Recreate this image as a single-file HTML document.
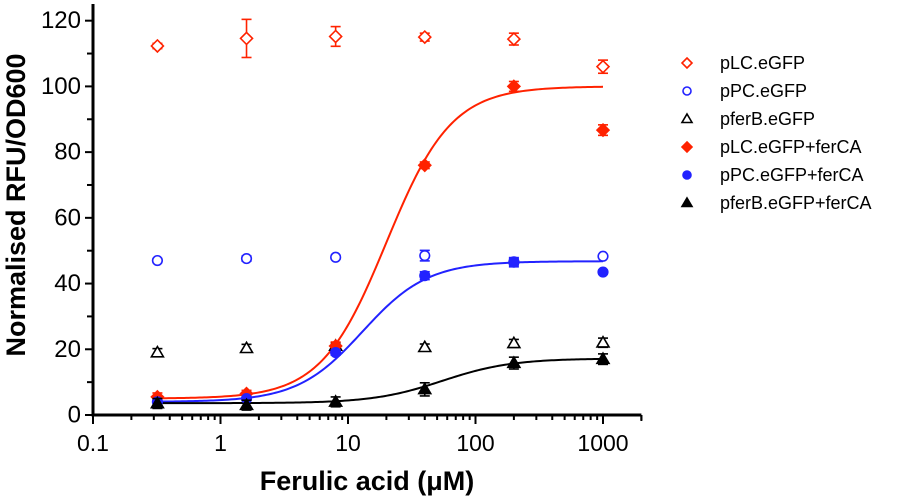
<!DOCTYPE html>
<html><head><meta charset="utf-8"><style>
html,body{margin:0;padding:0;background:#fff;}
svg{display:block;font-family:"Liberation Sans",Arial,sans-serif;}
</style></head><body>
<svg id="chart" width="916" height="500" viewBox="0 0 916 500">
<g id="axes"></g>
<g id="curves"></g>
<g id="points"></g>
<g id="legend"></g>
<text x="16" y="205" transform="rotate(-90 16 205)" text-anchor="middle" dominant-baseline="central" font-size="27" font-weight="bold">Normalised RFU/OD600</text>
<text x="367" y="481" text-anchor="middle" dominant-baseline="central" font-size="27" font-weight="bold">Ferulic acid (μM)</text>
</svg>
<script>
const concentrations = [0.32, 1.6, 8, 40, 200, 1000];
const pLC = [112.3, 114.6, 115.2, 115, 114.4, 106];
const pLCErr = [0.8, 5.8, 3, 1.2, 1.8, 2];
const pPC = [47, 47.6, 48, 48.5, 46.6, 48.3];
const pPCErr = [0.6, 0.8, 0.6, 1.6, 1, 0.4];
const pferB = [19, 20.3, 21, 20.6, 21.8, 22];
const pferBErr = [1.2, 1.2, 1, 1, 1.2, 1.4];
const pLCfer = [5.5, 6.5, 21, 76, 100, 86.7];
const pLCferErr = [1.2, 1, 1.2, 1, 1.5, 1.6];
const pPCfer = [4, 5, 19, 42.4, 46.5, 43.5];
const pPCferErr = [0.6, 0.6, 0.8, 1.2, 1.4, 0.6];
const pferBfer = [3.5, 3, 4, 7.8, 15.8, 17];
const pferBferErr = [1.5, 1.5, 1.5, 2, 1.8, 1.6];
// Hill fit params: bottom, top, EC50, hill slope
const fitLC = [5, 100, 20, 1.7];
const fitPC = [4, 46.8, 13, 1.7];
const fitFerB = [3.6, 17.2, 55, 1.6];
const yTicks = [0, 20, 40, 60, 80, 100, 120];
const xTicks = [0.1, 1, 10, 100, 1000];
const xTickLabels = ["0.1", "1", "10", "100", "1000"];
const legendLabels = ["pLC.eGFP", "pPC.eGFP", "pferB.eGFP", "pLC.eGFP+ferCA", "pPC.eGFP+ferCA", "pferB.eGFP+ferCA"];

const NS = "http://www.w3.org/2000/svg";
const X0 = 93, DEC = 127.5, Y0 = 415, PPU = 3.286;
const xs = v => X0 + (Math.log10(v) + 1) * DEC;
const ys = v => Y0 - v * PPU;
function mk(tag, attrs, parent) { const e = document.createElementNS(NS, tag); for (const k in attrs) e.setAttribute(k, attrs[k]); parent.appendChild(e); return e; }

const axes = document.getElementById('axes');
let l = mk('line', {x1: X0, y1: 4, x2: X0, y2: Y0 + 1.5, stroke: '#000', 'stroke-width': 3}, axes);


l = mk('line', {x1: X0 - 1.5, y1: Y0, x2: xs(2000), y2: Y0, stroke: '#000', 'stroke-width': 3}, axes);


for (let v = 0; v <= 120; v += 10) {
  const major = v % 20 === 0;
  const t = mk('line', {x1: X0 - (major ? 8 : 6), y1: ys(v), x2: X0, y2: ys(v), stroke: '#000', 'stroke-width': 2}, axes);
  
  
}
yTicks.forEach(v => {
  const t = mk('text', {x: 81, y: ys(v), 'text-anchor': 'end', 'dominant-baseline': 'central', 'font-size': 24}, axes);
  t.textContent = v;
  
  
});
for (let d = 0.1; d < 2000; d *= 10) {
  for (let m = 1; m <= 9; m++) {
    const v = d * m; if (v > 2000.01) break;
    const major = m === 1;
    const t = mk('line', {x1: xs(v), y1: Y0, x2: xs(v), y2: Y0 + (major ? 9 : 5), stroke: '#000', 'stroke-width': 2}, axes);
    
    
  }
}
mk('line', {x1: xs(2000), y1: Y0, x2: xs(2000), y2: Y0 + 6, stroke: '#000', 'stroke-width': 2}, axes);
xTicks.forEach((v, i) => {
  const t = mk('text', {x: xs(v), y: 443, 'text-anchor': 'middle', 'dominant-baseline': 'central', 'font-size': 23}, axes);
  t.textContent = xTickLabels[i];
  
  
});

const curves = document.getElementById('curves');
function hill(p, x) { return p[0] + (p[1] - p[0]) / (1 + Math.pow(p[2] / x, p[3])); }
[[fitLC, '#ff2200', 'fit-curve-plc'], [fitPC, '#2222ff', 'fit-curve-ppc'], [fitFerB, '#000', 'fit-curve-pferb']].forEach(([p, c, n]) => {
  let d = '';
  for (let i = 0; i <= 200; i++) {
    const lx = Math.log10(0.32) + (Math.log10(1000) - Math.log10(0.32)) * i / 200;
    const x = Math.pow(10, lx);
    d += (i ? 'L' : 'M') + xs(x).toFixed(2) + ',' + ys(hill(p, x)).toFixed(2);
  }
  const pth = mk('path', {d: d, fill: 'none', stroke: c, 'stroke-width': 2}, curves);
  
  
});

function marker(g, shape, filled, color, cx, cy, s) {
  const f = filled ? color : '#fff';
  const a = {fill: f, stroke: color, 'stroke-width': 1.6};
  if (shape === 'diamond') mk('polygon', Object.assign({points: `${cx},${cy - s} ${cx + s},${cy} ${cx},${cy + s} ${cx - s},${cy}`}, a), g);
  else if (shape === 'circle') mk('circle', Object.assign({cx: cx, cy: cy, r: s * 0.8}, a), g);
  else mk('polygon', Object.assign({points: `${cx},${cy - s} ${cx + s},${cy + s * 0.7} ${cx - s},${cy + s * 0.7}`}, a), g);
}
const series = [
  [pLC, pLCErr, 'diamond', false, '#ff2200', 'plc-egfp'],
  [pPC, pPCErr, 'circle', false, '#2222ff', 'ppc-egfp'],
  [pferB, pferBErr, 'triangle', false, '#000', 'pferb-egfp'],
  [pLCfer, pLCferErr, 'diamond', true, '#ff2200', 'plc-egfp-ferca'],
  [pPCfer, pPCferErr, 'circle', true, '#2222ff', 'ppc-egfp-ferca'],
  [pferBfer, pferBferErr, 'triangle', true, '#000', 'pferb-egfp-ferca']
];
const pts = document.getElementById('points');
series.forEach(([vals, errs, shape, filled, color, name]) => {
  const g = mk('g', {}, pts);
  
  
  vals.forEach((v, i) => {
    const cx = xs(concentrations[i]), cy = ys(v);
    const top = ys(v + errs[i]), bot = ys(v - errs[i]);
    const eb = mk('g', {stroke: color, 'stroke-width': 1.6}, g);
    
    
    mk('line', {x1: cx, y1: top, x2: cx, y2: bot}, eb);
    mk('line', {x1: cx - 5, y1: top, x2: cx + 5, y2: top}, eb);
    mk('line', {x1: cx - 5, y1: bot, x2: cx + 5, y2: bot}, eb);
    const mg = mk('g', {}, g);
    
    
    marker(mg, shape, filled, color, cx, cy, 6);
  });
});

const leg = document.getElementById('legend');
const legY = [63, 91, 119, 147, 175, 203];
series.forEach(([, , shape, filled, color, name], i) => {
  const g = mk('g', {}, leg);
  
  
  marker(g, shape, filled, color, 687, legY[i], 5);
  const t = mk('text', {x: 720, y: legY[i], 'dominant-baseline': 'central', 'font-size': 18}, g);
  t.textContent = legendLabels[i];
});
</script>
</body></html>
